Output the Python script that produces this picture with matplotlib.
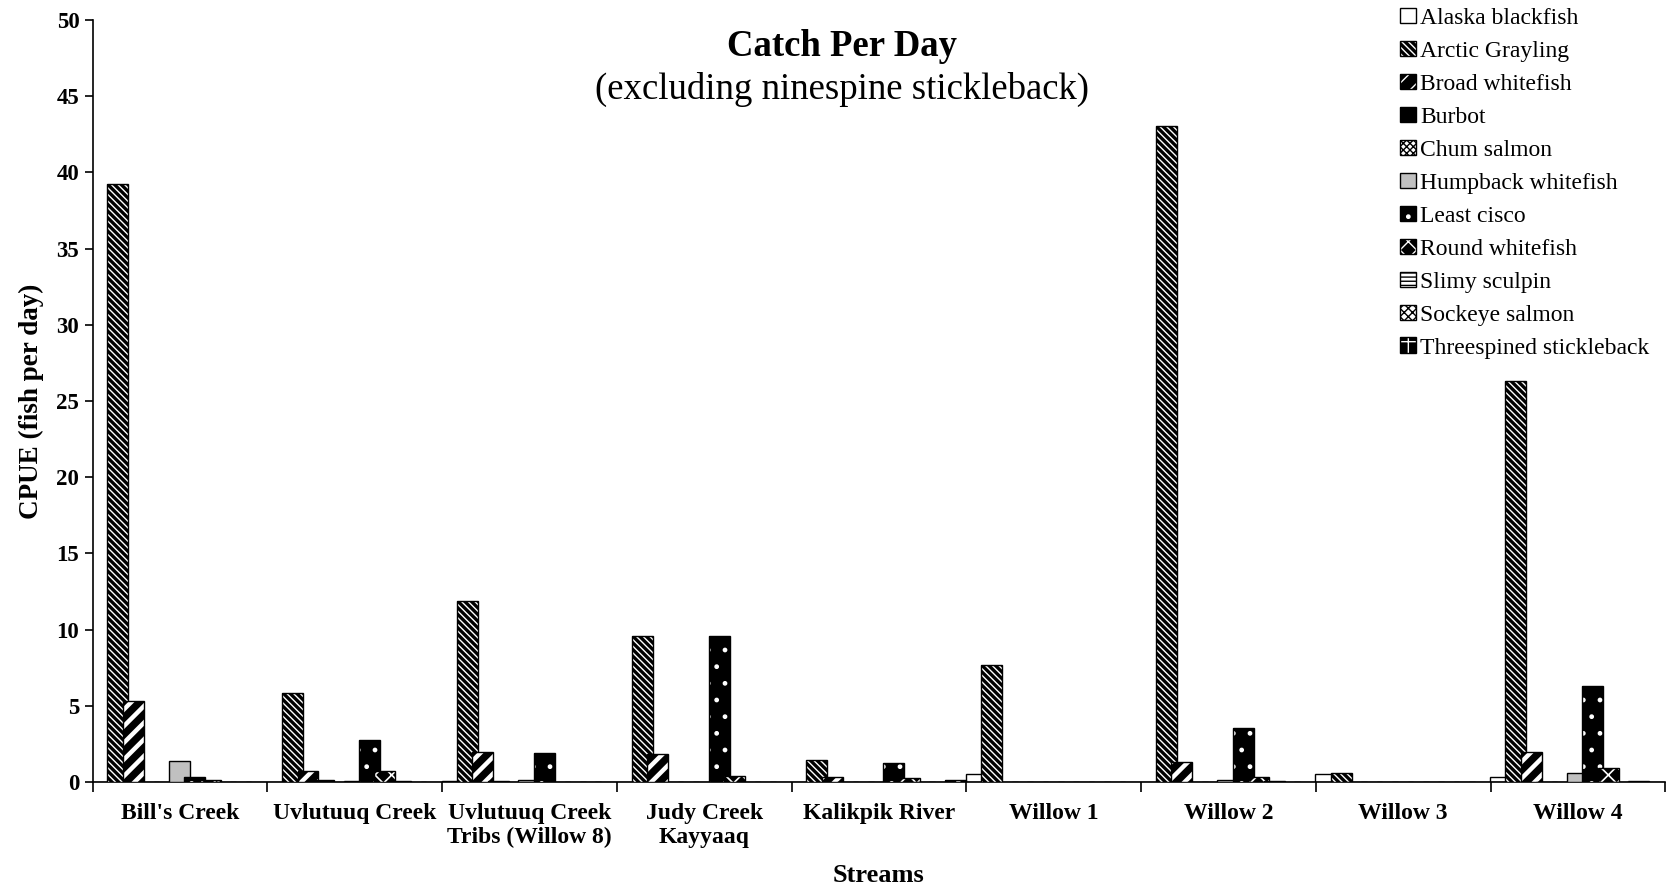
import numpy as np
import matplotlib.pyplot as plt
from matplotlib.legend_handler import HandlerTuple

plt.rcParams['font.family'] = ['Liberation Serif', 'DejaVu Serif']

streams = ["Bill's Creek", 'Uvlutuuq Creek', 'Uvlutuuq Creek\nTribs (Willow 8)',
           'Judy Creek\nKayyaaq', 'Kalikpik River', 'Willow 1', 'Willow 2',
           'Willow 3', 'Willow 4']

species = ['Alaska blackfish', 'Arctic Grayling', 'Broad whitefish', 'Burbot',
           'Chum salmon', 'Humpback whitefish', 'Least cisco', 'Round whitefish',
           'Slimy sculpin', 'Sockeye salmon', 'Threespined stickleback']

# CPUE per stream, one list per species (same order as streams)
alaska_blackfish = [0, 0, 0.05, 0, 0, 0.55, 0, 0.55, 0.3]
arctic_grayling = [39.25, 5.85, 11.85, 9.55, 1.45, 7.7, 43.05, 0.6, 26.3]
broad_whitefish = [5.3, 0.75, 2.0, 1.85, 0.3, 0, 1.3, 0, 2.0]
burbot = [0, 0.15, 0.05, 0, 0, 0, 0, 0, 0]
chum_salmon = [0, 0, 0, 0, 0, 0, 0, 0, 0]
humpback_whitefish = [1.35, 0.05, 0.15, 0, 0, 0, 0.15, 0, 0.6]
least_cisco = [0.3, 2.75, 1.9, 9.55, 1.25, 0, 3.55, 0, 6.3]
round_whitefish = [0.15, 0.7, 0, 0.4, 0.25, 0, 0.35, 0, 0.95]
slimy_sculpin = [0, 0.1, 0, 0, 0, 0, 0.05, 0, 0]
sockeye_salmon = [0, 0, 0, 0, 0, 0, 0, 0, 0.05]
threespined_stickleback = [0, 0, 0, 0, 0.15, 0, 0, 0, 0]

series = [alaska_blackfish, arctic_grayling, broad_whitefish, burbot, chum_salmon,
          humpback_whitefish, least_cisco, round_whitefish, slimy_sculpin,
          sockeye_salmon, threespined_stickleback]

# (face, hatch, hatch colour, hatch linewidth)
styles = [
    ('white', None, 'black', 1.0),
    ('black', '\\' * 5, 'white', 1.0),
    ('black', '//', 'white', 3.2),
    ('black', None, 'white', 1.0),
    ('white', 'xxxxx', 'black', 1.0),
    ('#c0c0c0', None, 'black', 1.0),
    ('black', '.', 'white', 1.0),
    ('black', 'xx', 'white', 1.2),
    ('white', '----', 'black', 1.2),
    ('white', 'xxxx', 'black', 1.0),
    ('black', '+', 'white', 3.0),
]

fig = plt.figure(figsize=(16.67, 8.9), dpi=100)
ax = fig.add_axes([0.0555, 0.1213, 0.9435, 0.8562])

x = np.arange(len(streams))
step = 0.088
width = 0.12

handles = []
for j, vals in enumerate(series):
    face, hatch, hcol, hlw = styles[j]
    left = x + j * step - 0.003
    filled = ax.bar(left, vals, width, align='edge', color=face,
                    edgecolor=hcol, hatch=hatch, linewidth=0, zorder=2 + j)
    for p in filled:
        if hasattr(p, 'set_hatch_linewidth'):
            p.set_hatch_linewidth(hlw)
    outline = ax.bar(left, vals, width, align='edge', fill=False,
                     edgecolor='black', linewidth=1.0, zorder=2 + j)
    handles.append((filled, outline))

ax.set_xlim(0, 9)
ax.set_ylim(0, 50)
ax.set_yticks(range(0, 51, 5))
ax.set_xticks(np.arange(0, 10))
ax.set_xticklabels([])
ax.set_xticks(x + 0.5, minor=True)
ax.set_xticklabels(streams, minor=True, fontsize=17, fontweight='bold')
ax.tick_params(axis='x', which='minor', length=0, pad=15)
ax.tick_params(axis='x', which='major', length=7, width=1.2, direction='out')
ax.tick_params(axis='y', length=6, width=1.2, labelsize=16.5)
for lab in ax.get_yticklabels():
    lab.set_fontweight('bold')
for s in ['top', 'right']:
    ax.spines[s].set_visible(False)
for s in ['left', 'bottom']:
    ax.spines[s].set_linewidth(1.2)

ax.set_ylabel('CPUE (fish per day)', fontsize=19.5, fontweight='bold', labelpad=9)
ax.set_xlabel('Streams', fontsize=19, fontweight='bold', labelpad=11)

fig.text(0.505, 0.948, 'Catch Per Day', ha='center', va='center',
         fontsize=26.5, fontweight='bold')
fig.text(0.505, 0.900, '(excluding ninespine stickleback)', ha='center',
         va='center', fontsize=26.5)

ax.legend(handles, species, handler_map={tuple: HandlerTuple(ndivide=1)},
          loc='upper left', bbox_to_anchor=(1398 / 1667, 0.994),
          bbox_transform=fig.transFigure, frameon=False, fontsize=17,
          handlelength=0.65, handleheight=0.65, handletextpad=0.2,
          labelspacing=0.5, borderaxespad=0, borderpad=0.1)

fig.savefig('out.png', dpi=100)
